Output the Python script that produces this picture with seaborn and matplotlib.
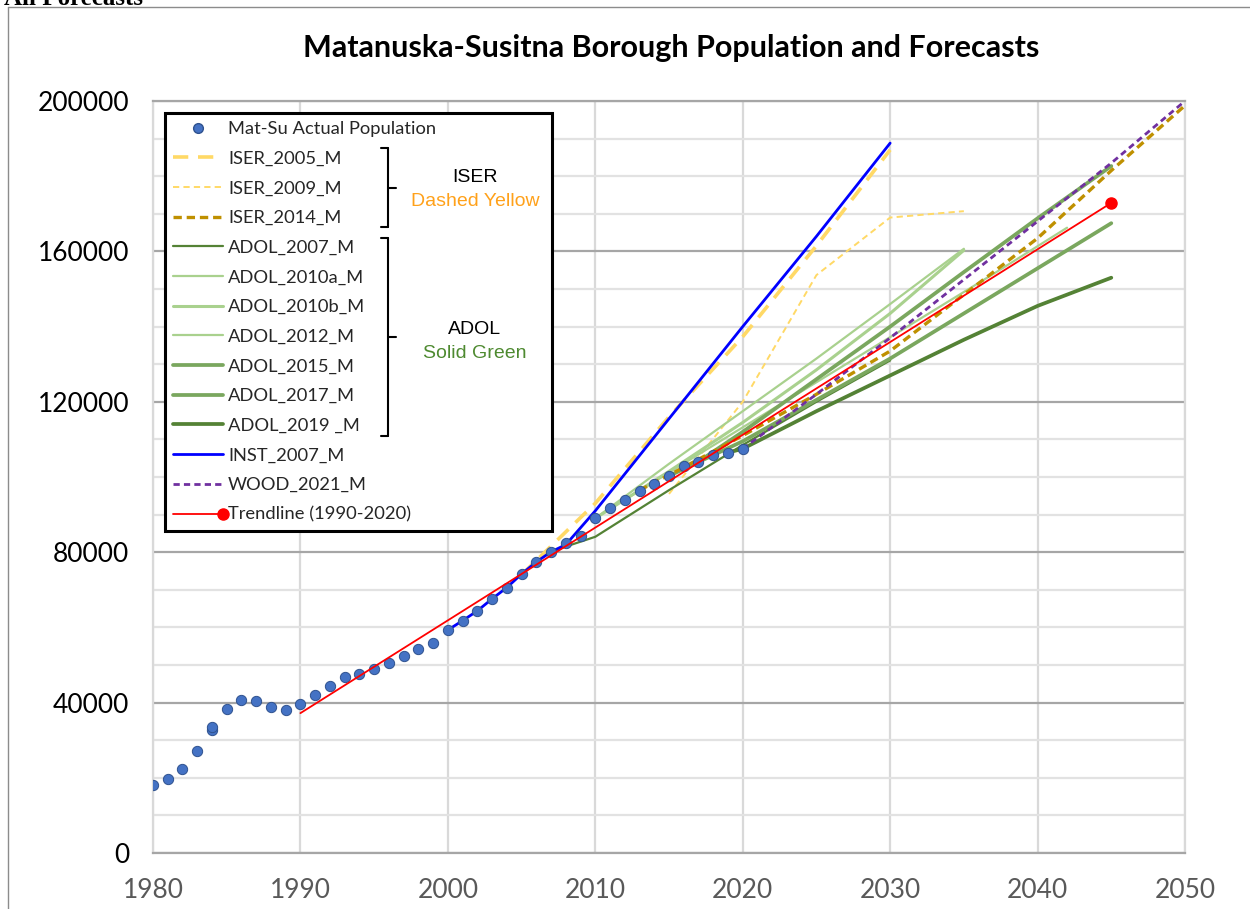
import numpy as np
import pandas as pd
import matplotlib
matplotlib.use("Agg")
import matplotlib.pyplot as plt
import seaborn as sns
from matplotlib.lines import Line2D
from matplotlib.legend_handler import HandlerBase

# ---------------- data ----------------
actual_years = [1980, 1981, 1982, 1983, 1984, 1984, 1985, 1986, 1987, 1988, 1989,
                1990, 1991, 1992, 1993, 1994, 1995, 1996, 1997, 1998, 1999,
                2000, 2001, 2002, 2003, 2004, 2005, 2006, 2007, 2008, 2009,
                2010, 2011, 2012, 2013, 2014, 2015, 2016, 2017, 2018, 2019, 2020]
actual_pop = [18100, 19700, 22300, 27100, 32600, 33600, 38300, 40600, 40400, 38700, 38000,
              39700, 42000, 44300, 46700, 47700, 49000, 50400, 52300, 54200, 55800,
              59300, 61800, 64400, 67600, 70600, 74200, 77400, 80100, 82500, 84300,
              89000, 91800, 93900, 96300, 98200, 100300, 102900, 104100, 105900, 106500, 107500]

iser_2005_years = [2005, 2010, 2015, 2020, 2025, 2030]
iser_2005_vals = [74000, 93000, 116000, 137300, 161500, 187000]

iser_2009_years = [2015, 2020, 2025, 2030, 2035]
iser_2009_vals = [95500, 120000, 153700, 169000, 170700]

iser_2014_years = [2013, 2015, 2020, 2025, 2030, 2035, 2040, 2045, 2050]
iser_2014_vals = [96500, 100500, 111000, 122000, 133500, 148500, 163500, 181500, 198800]

adol_2007_years = [2007, 2008, 2009, 2010, 2015, 2020, 2025, 2030]
adol_2007_vals = [80100, 81500, 82800, 84100, 96500, 108500, 120000, 131000]

adol_2010a_years = [2010, 2015, 2020, 2025, 2030, 2035]
adol_2010a_vals = [89000, 103500, 117500, 131500, 146000, 160700]

adol_2010b_years = [2010, 2015, 2020, 2025, 2030, 2035]
adol_2010b_vals = [89000, 101500, 114500, 128500, 143500, 160300]

adol_2012_years = [2012, 2017, 2022, 2027, 2032, 2037, 2042]
adol_2012_vals = [93900, 106000, 118000, 130000, 142000, 154000, 166300]

adol_2015_years = [2015, 2020, 2025, 2030, 2035, 2040, 2045]
adol_2015_vals = [100300, 109500, 120500, 131500, 143500, 155500, 167500]

adol_2017_years = [2017, 2020, 2025, 2030, 2035, 2040, 2045]
adol_2017_vals = [104100, 112000, 126000, 140000, 154500, 168800, 182700]

adol_2019_years = [2019, 2020, 2025, 2030, 2035, 2040, 2045]
adol_2019_vals = [106500, 107500, 117500, 127000, 136500, 145500, 153000]

inst_2007_years = [2000, 2001, 2002, 2003, 2004, 2005, 2006, 2007, 2008, 2009, 2010, 2015, 2020, 2025, 2030]
inst_2007_vals = [59300, 61800, 64400, 67600, 70600, 74200, 77400, 80100, 82000, 86500, 91000,
                  115500, 140000, 164000, 188800]

wood_2021_years = [2020, 2025, 2030, 2035, 2040, 2045, 2050]
wood_2021_vals = [107500, 122000, 137000, 152500, 168000, 183500, 200000]

trend_years = [1990, 2045]
trend_vals = [37200, 172900]

x_ticks = [1980, 1990, 2000, 2010, 2020, 2030, 2040, 2050]
y_ticks = [0, 40000, 80000, 120000, 160000, 200000]

title = "Matanuska-Susitna Borough Population and Forecasts"

# ---------------- style ----------------
sns.set_style("white")
plt.rcParams["font.family"] = ["Lato", "DejaVu Sans"]
plt.rcParams["lines.scale_dashes"] = False

W, H = 1250, 909
fig = plt.figure(figsize=(W / 100, H / 100), dpi=100)


def fx(px):
    return px / W


def fy(py):
    return 1 - py / H


ax = fig.add_axes([fx(153), fy(853), fx(1185) - fx(153), fy(101) - fy(853)])

series = [
    ("ISER_2005_M", iser_2005_years, iser_2005_vals, "#FFD966", 2.6, (0, (11, 7)), 3),
    ("ISER_2009_M", iser_2009_years, iser_2009_vals, "#FFD966", 1.4, (0, (4.5, 3)), 3),
    ("ISER_2014_M", iser_2014_years, iser_2014_vals, "#BF9000", 2.4, (0, (6, 3.5)), 3.4),
    ("ADOL_2007_M", adol_2007_years, adol_2007_vals, "#548235", 1.6, "-", 3),
    ("ADOL_2010a_M", adol_2010a_years, adol_2010a_vals, "#A9D18E", 1.6, "-", 3),
    ("ADOL_2010b_M", adol_2010b_years, adol_2010b_vals, "#A9D18E", 2.2, "-", 3),
    ("ADOL_2012_M", adol_2012_years, adol_2012_vals, "#A9D18E", 1.6, "-", 3),
    ("ADOL_2015_M", adol_2015_years, adol_2015_vals, "#7AA75E", 2.7, "-", 3.1),
    ("ADOL_2017_M", adol_2017_years, adol_2017_vals, "#7AA75E", 2.7, "-", 3.1),
    ("ADOL_2019 _M", adol_2019_years, adol_2019_vals, "#548235", 2.7, "-", 3.2),
    ("INST_2007_M", inst_2007_years, inst_2007_vals, "#0000FF", 2.0, "-", 3.5),
    ("WOOD_2021_M", wood_2021_years, wood_2021_vals, "#7030A0", 2.0, (0, (4.5, 3)), 3.6),
]

for name, xs, ys, col, lw, ls, z in series:
    sns.lineplot(x=xs, y=ys, ax=ax, color=col, linewidth=lw, linestyle=ls,
                 zorder=z, estimator=None, sort=False)

sns.scatterplot(x=actual_years, y=actual_pop, ax=ax, color="#4472C4",
                edgecolor="#2F528F", linewidth=0.7, s=55, zorder=4)

sns.lineplot(x=trend_years, y=trend_vals, ax=ax, color="#FF0000", linewidth=1.3,
             zorder=4.5, estimator=None)
ax.plot(trend_years[-1:], trend_vals[-1:], marker="o", color="#FF0000",
        markersize=8, linestyle="none", zorder=4.6)

# ---------------- axes ----------------
ax.set_xlim(1980, 2050)
ax.set_ylim(0, 200000)
ax.set_xticks(x_ticks)
ax.set_xticklabels([str(t) for t in x_ticks])
ax.set_yticks(y_ticks)
ax.set_yticklabels([str(t) for t in y_ticks])
ax.set_yticks(np.arange(0, 200001, 10000), minor=True)
ax.tick_params(axis="both", which="both", length=0)
ax.tick_params(axis="y", pad=17, labelsize=19, labelcolor="black")
ax.tick_params(axis="x", pad=18, labelsize=19, labelcolor="#595959")
ax.set_axisbelow(True)
ax.grid(which="minor", axis="y", color="#E2E2E2", linewidth=1.6)
ax.grid(which="major", axis="y", color="#A6A6A6", linewidth=1.6)
ax.grid(which="major", axis="x", color="#D9D9D9", linewidth=1.6)
for side in ["left", "right"]:
    ax.spines[side].set_color("#D9D9D9")
    ax.spines[side].set_linewidth(1.6)
for side in ["top", "bottom"]:
    ax.spines[side].set_color("#A6A6A6")
    ax.spines[side].set_linewidth(1.6)
ax.set_xlabel("")
ax.set_ylabel("")

# ---------------- legend ----------------
class HandlerEndDot(HandlerBase):
    def create_artists(self, legend, orig_handle, xdescent, ydescent, width,
                       height, fontsize, trans):
        y = height / 2 - ydescent
        line = Line2D([-xdescent, width - xdescent], [y, y], color="#FF0000", lw=1.3)
        dot = Line2D([width - xdescent], [y], marker="o", color="#FF0000",
                     markersize=8, linestyle="none")
        line.set_transform(trans)
        dot.set_transform(trans)
        return [line, dot]


handles = [Line2D([], [], marker="o", linestyle="none", markerfacecolor="#4472C4",
                  markeredgecolor="#2F528F", markersize=7)]
labels = ["Mat-Su Actual Population"]
for name, xs, ys, col, lw, ls, z in series:
    handles.append(Line2D([], [], color=col, linewidth=lw, linestyle=ls))
    labels.append(name)
trend_handle = Line2D([], [], color="#FF0000")
handles.append(trend_handle)
labels.append("Trendline (1990-2020)")

leg = ax.legend(handles, labels, loc="upper left",
                bbox_to_anchor=(fx(165), fy(113), fx(552) - fx(165), 0.0),
                bbox_transform=fig.transFigure, mode="expand",
                frameon=True, fancybox=False, edgecolor="black", framealpha=1,
                fontsize=13.2, handlelength=2.7, handletextpad=0.28,
                labelspacing=0.745, borderpad=0.45, borderaxespad=0,
                handler_map={trend_handle: HandlerEndDot()})
leg.get_frame().set_linewidth(2.2)
leg.set_zorder(10)

# brackets
def bracket(y0, y1, ymid):
    kw = dict(color="black", lw=1.5, transform=fig.transFigure, zorder=20)
    fig.add_artist(Line2D([fx(388), fx(388)], [fy(y0), fy(y1)], **kw))
    fig.add_artist(Line2D([fx(381), fx(388)], [fy(y0), fy(y0)], **kw))
    fig.add_artist(Line2D([fx(381), fx(388)], [fy(y1), fy(y1)], **kw))
    fig.add_artist(Line2D([fx(388), fx(396)], [fy(ymid), fy(ymid)], **kw))


bracket(148, 227, 188)
bracket(238, 436, 337)

gfont = ["Liberation Sans", "DejaVu Sans"]
fig.text(fx(475), fy(177), "ISER", ha="center", va="center", fontsize=14,
         family=gfont, color="black", zorder=20)
fig.text(fx(475), fy(201), "Dashed Yellow", ha="center", va="center", fontsize=14,
         family=gfont, color="#FFA11A", zorder=20)
fig.text(fx(475), fy(329), "ADOL", ha="center", va="center", fontsize=14,
         family=gfont, color="black", zorder=20)
fig.text(fx(475), fy(353), "Solid Green", ha="center", va="center", fontsize=14,
         family=gfont, color="#4E8A30", zorder=20)

# title
fig.text(fx(671), fy(48), title, ha="center", va="center", fontsize=22,
         fontweight="bold", color="black")

# heading at very top (cut off by the page edge, as in the source)
fig.text(fx(4), fy(5), "All Forecasts", ha="left", va="baseline", fontsize=18,
         fontweight="bold", family=["Liberation Serif", "DejaVu Serif"], color="black")

# outer border
fig.add_artist(Line2D([fx(8), fx(8)], [fy(7), fy(915)], color="#8C8C8C", lw=1,
                      transform=fig.transFigure))
fig.add_artist(Line2D([fx(8), fx(1260)], [fy(7), fy(7)], color="#8C8C8C", lw=1,
                      transform=fig.transFigure))

fig.savefig("out.png", dpi=100, facecolor="white")
